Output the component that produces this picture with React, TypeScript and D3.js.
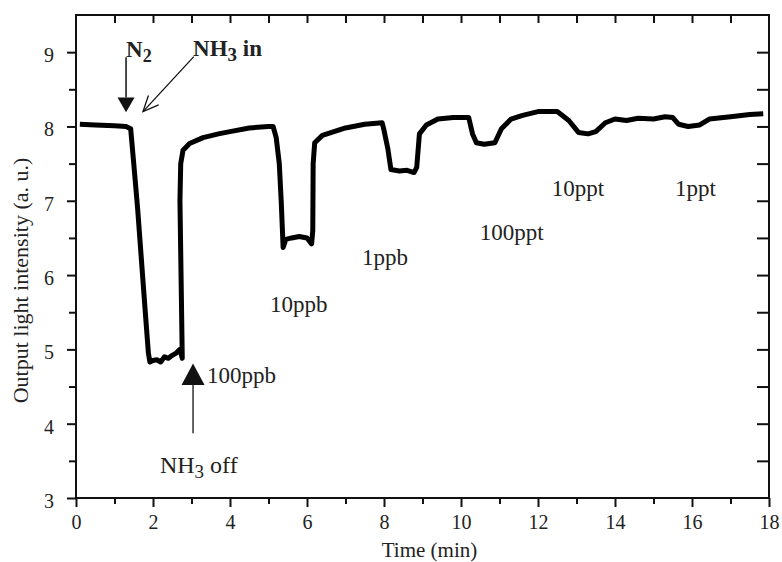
import React, { useEffect, useRef } from 'react';
import * as d3 from 'd3';

// Output light intensity trace (time in min, intensity in a.u.)
const timeMin = [
  0.1, 0.5, 1.0, 1.3, 1.42, 1.5, 1.6, 1.7, 1.8, 1.88, 1.92, 2.0, 2.1, 2.2, 2.3, 2.4, 2.5, 2.6, 2.7, 2.76,
  2.74, 2.72, 2.7, 2.72, 2.78, 2.95, 3.3, 3.7, 4.0, 4.5, 5.0, 5.12, 5.2, 5.28, 5.33, 5.38, 5.45, 5.6, 5.8,
  6.0, 6.12, 6.15, 6.16, 6.2, 6.4, 6.7, 7.0, 7.5, 7.95, 8.0, 8.1, 8.18, 8.4, 8.6, 8.78, 8.85, 8.92, 9.1,
  9.4, 9.8, 10.2, 10.3, 10.4, 10.6, 10.88, 11.05, 11.3, 11.6, 12.0, 12.5, 12.8, 13.05, 13.3, 13.5, 13.75,
  14.0, 14.3, 14.6, 15.0, 15.3, 15.5, 15.65, 15.9, 16.2, 16.45, 17.0, 17.5, 17.85,
];
const intensity = [
  8.03, 8.02, 8.01, 8.0, 7.97, 7.5, 6.9, 6.2, 5.5, 4.95, 4.83, 4.85, 4.86, 4.83, 4.9, 4.88, 4.92, 4.95, 5.0, 4.88,
  5.6, 6.3, 7.0, 7.5, 7.68, 7.77, 7.85, 7.9, 7.93, 7.98, 8.0, 8.0, 7.85, 7.5, 7.0, 6.37, 6.48, 6.5, 6.52,
  6.5, 6.42, 6.6, 7.5, 7.78, 7.88, 7.93, 7.98, 8.03, 8.05, 7.95, 7.7, 7.42, 7.4, 7.41, 7.38, 7.45, 7.9, 8.02,
  8.1, 8.12, 8.12, 7.9, 7.78, 7.76, 7.78, 7.97, 8.1, 8.15, 8.2, 8.2, 8.08, 7.92, 7.9, 7.93, 8.05,
  8.1, 8.08, 8.11, 8.1, 8.13, 8.12, 8.03, 8.0, 8.02, 8.1, 8.13, 8.16, 8.17,
];

const xMajorTicks = [0, 2, 4, 6, 8, 10, 12, 14, 16, 18];
const xMinorTicks = [1, 3, 5, 7, 9, 11, 13, 15, 17];
const yMajorTicks = [3, 4, 5, 6, 7, 8, 9];
const yMinorTicks = [3.5, 4.5, 5.5, 6.5, 7.5, 8.5];

// concentration labels (data coordinates of text start / baseline)
const concLabels = [
  { text: '100ppb', t: 3.4, v: 4.55 },
  { text: '10ppb', t: 5.04, v: 5.5 },
  { text: '1ppb', t: 7.43, v: 6.13 },
  { text: '100ppt', t: 10.49, v: 6.47 },
  { text: '10ppt', t: 12.36, v: 7.07 },
  { text: '1ppt', t: 15.56, v: 7.07 },
];

const App = () => {
  const ref = useRef<SVGSVGElement | null>(null);

  useEffect(() => {
    const W = 782;
    const H = 562;
    const margin = { top: 15, right: 13, bottom: 64, left: 76 };
    const width = W - margin.left - margin.right;
    const height = H - margin.top - margin.bottom;
    const font = '"Liberation Serif", "Times New Roman", serif';

    const root = d3.select(ref.current);
    root.selectAll('*').remove();

    const svg = root.append('g').attr('transform', `translate(${margin.left},${margin.top})`);

    const x = d3.scaleLinear().domain([0, 18]).range([0, width]);
    const y = d3.scaleLinear().domain([3, 9.5]).range([height, 0]);

    const styleAxis = (g: any) => {
      g.select('.domain').remove();
      g.selectAll('line').attr('stroke', '#111').attr('stroke-width', 2);
      g.selectAll('text').attr('fill', '#222').style('font-family', font).style('font-size', '20px');
    };

    // bottom axis
    svg.append('g').attr('transform', `translate(0,${height})`)
      .call(d3.axisBottom(x).tickValues(xMajorTicks).tickSize(9).tickPadding(8).tickFormat(d3.format('d')))
      .call(styleAxis);
    svg.append('g').attr('transform', `translate(0,${height})`)
      .call(d3.axisBottom(x).tickValues(xMinorTicks).tickSize(6).tickFormat(() => ''))
      .call(styleAxis);

    // left axis
    svg.append('g')
      .call(d3.axisLeft(y).tickValues(yMajorTicks).tickSize(9).tickPadding(13).tickFormat(d3.format('d')))
      .call(styleAxis)
      .selectAll('text').attr('dy', '0.47em');
    svg.append('g')
      .call(d3.axisLeft(y).tickValues(yMinorTicks).tickSize(7).tickFormat(() => ''))
      .call(styleAxis);

    // top axis (inward ticks)
    svg.append('g')
      .call(d3.axisTop(x).tickValues(d3.range(1, 18)).tickSize(-8).tickFormat(() => ''))
      .call(styleAxis);

    // right axis (inward ticks)
    svg.append('g').attr('transform', `translate(${width},0)`)
      .call(d3.axisRight(y).tickValues(d3.range(3.5, 9.5, 0.5)).tickSize(-12).tickFormat(() => ''))
      .call(styleAxis);

    // frame
    svg.append('rect')
      .attr('x', 0).attr('y', 0).attr('width', width).attr('height', height)
      .attr('fill', 'none').attr('stroke', '#111').attr('stroke-width', 2);

    // trace
    const pts = timeMin.map((t, i) => [t, intensity[i]] as [number, number]);
    const line = d3.line<[number, number]>().x(d => x(d[0])).y(d => y(d[1]));
    svg.append('path')
      .datum(pts)
      .attr('fill', 'none')
      .attr('stroke', '#000')
      .attr('stroke-width', 5)
      .attr('stroke-linejoin', 'round')
      .attr('d', line);

    // concentration labels
    svg.selectAll('.conc')
      .data(concLabels)
      .enter().append('text')
      .attr('class', 'conc')
      .attr('x', d => x(d.t))
      .attr('y', d => y(d.v))
      .attr('fill', '#222')
      .style('font-family', font)
      .style('font-size', '23px')
      .text(d => d.text);

    // N2 arrow (filled head, pointing down)
    const n2x = x(1.3);
    svg.append('line')
      .attr('x1', n2x).attr('x2', n2x).attr('y1', y(8.93)).attr('y2', y(8.39))
      .attr('stroke', '#111').attr('stroke-width', 1.5);
    svg.append('path')
      .attr('d', `M${n2x - 8.5},${y(8.39)} L${n2x + 8.5},${y(8.39)} L${n2x},${y(8.19)} Z`)
      .attr('fill', '#111');
    const n2 = svg.append('text')
      .attr('x', x(1.3)).attr('y', y(8.93))
      .attr('fill', '#222')
      .style('font-family', font).style('font-size', '23px').style('font-weight', 'bold');
    n2.append('tspan').text('N');
    n2.append('tspan').attr('dy', 5).style('font-size', '18px').text('2');

    // NH3 in arrow (open head)
    const ax1 = x(3.06), ay1 = y(8.94), ax2 = x(1.74), ay2 = y(8.2);
    svg.append('line')
      .attr('x1', ax1).attr('y1', ay1).attr('x2', ax2).attr('y2', ay2)
      .attr('stroke', '#111').attr('stroke-width', 1.3);
    const ang = Math.atan2(ay1 - ay2, ax1 - ax2);
    const hl = 17;
    const spread = 0.42;
    svg.append('path')
      .attr('d', `M${ax2 + hl * Math.cos(ang - spread)},${ay2 + hl * Math.sin(ang - spread)} L${ax2},${ay2} L${ax2 + hl * Math.cos(ang + spread)},${ay2 + hl * Math.sin(ang + spread)}`)
      .attr('fill', 'none').attr('stroke', '#111').attr('stroke-width', 1.3);
    const nh3in = svg.append('text')
      .attr('x', x(3.04)).attr('y', y(8.95))
      .attr('fill', '#222')
      .style('font-family', font).style('font-size', '23px').style('font-weight', 'bold');
    nh3in.append('tspan').text('NH');
    nh3in.append('tspan').attr('dy', 5).style('font-size', '19px').text('3');
    nh3in.append('tspan').attr('dy', -5).text('\u00a0in');

    // NH3 off arrow (filled head, pointing up)
    const offx = x(3.04);
    svg.append('path')
      .attr('d', `M${offx - 11.5},${y(4.52)} L${offx + 11.5},${y(4.52)} L${offx},${y(4.81)} Z`)
      .attr('fill', '#111');
    svg.append('line')
      .attr('x1', offx).attr('x2', offx).attr('y1', y(4.52)).attr('y2', y(3.87))
      .attr('stroke', '#111').attr('stroke-width', 1.3);
    const nh3off = svg.append('text')
      .attr('x', x(2.18)).attr('y', y(3.34))
      .attr('fill', '#222')
      .style('font-family', font).style('font-size', '24px');
    nh3off.append('tspan').text('NH');
    nh3off.append('tspan').attr('dy', 5).style('font-size', '19px').text('3');
    nh3off.append('tspan').attr('dy', -5).text('\u00a0off');

    // axis titles
    svg.append('text')
      .attr('x', width / 2 + 7).attr('y', height + 59)
      .attr('text-anchor', 'middle')
      .attr('fill', '#222')
      .style('font-family', font).style('font-size', '21px')
      .text('Time (min)');
    svg.append('text')
      .attr('transform', `translate(${-48},${height / 2 + 24}) rotate(-90)`)
      .attr('text-anchor', 'middle')
      .attr('fill', '#222')
      .style('font-family', font).style('font-size', '22px')
      .text('Output light intensity (a. u.)');
  }, []);

  return (
    <svg
      ref={ref}
      width={782}
      height={562}
      style={{ position: 'absolute', left: 0, top: 0, background: '#fff' }}
    />
  );
};

export default App;
